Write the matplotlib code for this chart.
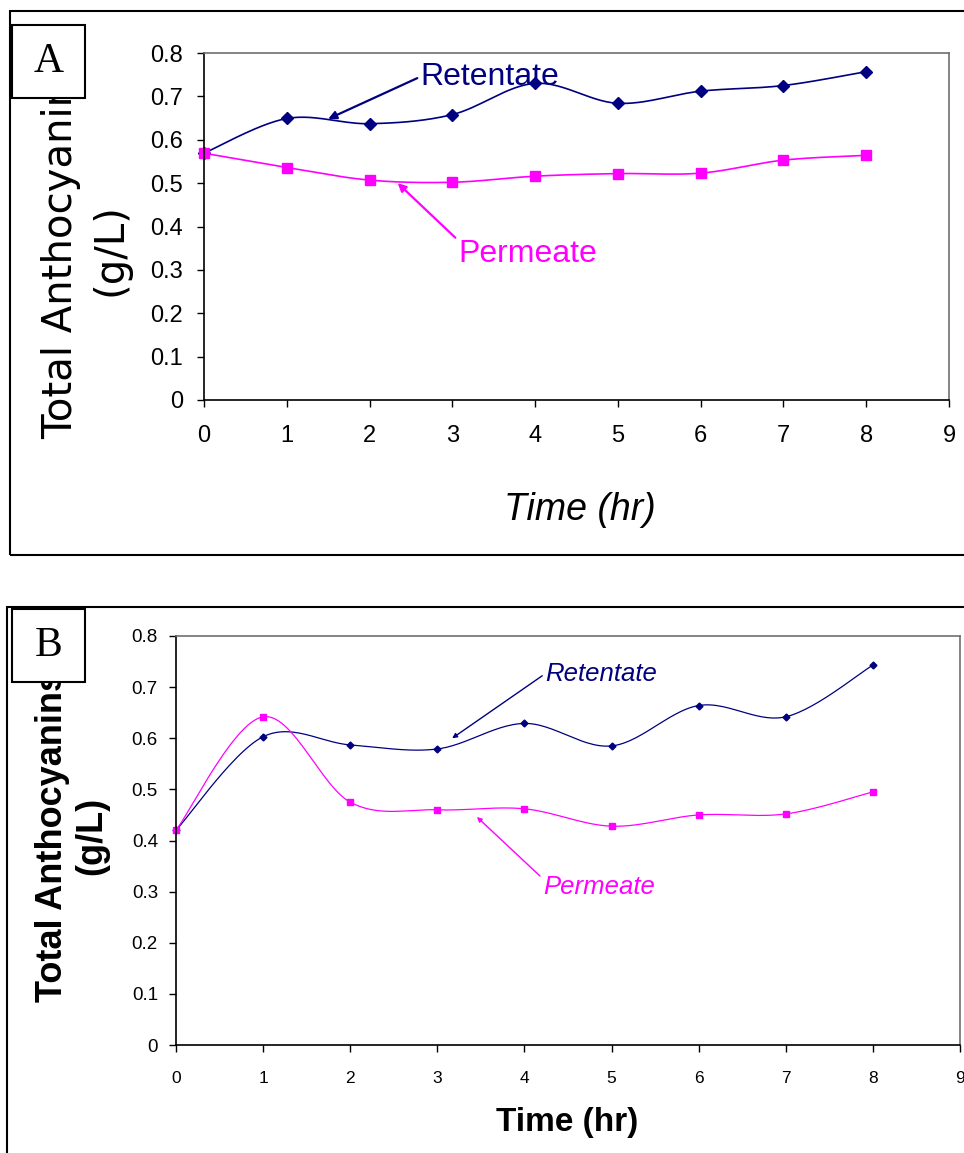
import numpy as np
import matplotlib
matplotlib.use("Agg")
import matplotlib.pyplot as plt
from matplotlib.patches import Rectangle

# =====================================================
# DATA
# =====================================================
time_hr = [0, 1, 2, 3, 4, 5, 6, 7, 8]

retentate_a = [0.569, 0.649, 0.637, 0.658, 0.730, 0.684, 0.712, 0.725, 0.757]
permeate_a = [0.569, 0.536, 0.507, 0.502, 0.516, 0.522, 0.523, 0.553, 0.564]

retentate_b = [0.420, 0.603, 0.587, 0.579, 0.629, 0.585, 0.664, 0.642, 0.743]
permeate_b = [0.420, 0.642, 0.475, 0.460, 0.462, 0.428, 0.450, 0.452, 0.495]

x_ticks = [0, 1, 2, 3, 4, 5, 6, 7, 8, 9]
y_ticks = [0, 0.1, 0.2, 0.3, 0.4, 0.5, 0.6, 0.7, 0.8]
y_tick_labels = ["0", "0.1", "0.2", "0.3", "0.4", "0.5", "0.6", "0.7", "0.8"]

NAVY = "#000080"
MAGENTA = "#FF00FF"

W, H = 964, 1153
SANS = "Liberation Sans"


def px_axes(left, top, right, bottom):
    return [left / W, 1 - bottom / H, (right - left) / W, (bottom - top) / H]


def smooth(x, y, n=30):
    # Bezier smoothing like a spreadsheet "smoothed line"
    x = np.asarray(x, float)
    y = np.asarray(y, float)
    px = np.concatenate([[x[0]], x, [x[-1]]])
    py = np.concatenate([[y[0]], y, [y[-1]]])
    t = np.linspace(0, 1, n)
    xs, ys = [], []
    for i in range(1, len(px) - 2):
        p0 = np.array([px[i], py[i]])
        p3 = np.array([px[i + 1], py[i + 1]])
        c1 = p0 + (np.array([px[i + 1], py[i + 1]]) - np.array([px[i - 1], py[i - 1]])) / 6
        c2 = p3 - (np.array([px[i + 2], py[i + 2]]) - np.array([px[i], py[i]])) / 6
        b = ((1 - t) ** 3)[:, None] * p0 + (3 * (1 - t) ** 2 * t)[:, None] * c1 \
            + (3 * (1 - t) * t ** 2)[:, None] * c2 + (t ** 3)[:, None] * p3
        xs.append(b[:, 0])
        ys.append(b[:, 1])
    return np.concatenate(xs), np.concatenate(ys)


def style_axes(ax, xsize, ysize, ypad, xpad):
    ax.set_xlim(0, 9)
    ax.set_ylim(0, 0.8)
    ax.set_xticks(x_ticks)
    ax.set_xticklabels([str(v) for v in x_ticks], family=SANS, fontsize=xsize)
    ax.set_yticks(y_ticks)
    ax.set_yticklabels(y_tick_labels, family=SANS, fontsize=ysize)
    ax.tick_params(axis="y", direction="out", length=5, width=1, pad=ypad)
    ax.tick_params(axis="x", direction="out", length=5, width=1, pad=xpad)
    for s in ["left", "bottom"]:
        ax.spines[s].set_color("black")
        ax.spines[s].set_linewidth(1.2)
    for s in ["top", "right"]:
        ax.spines[s].set_color("#707070")
        ax.spines[s].set_linewidth(1.2)


def panel_box(fig, left, top, letter):
    fig.add_artist(Rectangle((left / W, 1 - (top + 73) / H), 73 / W, 73 / H,
                             transform=fig.transFigure, facecolor="white",
                             edgecolor="black", lw=1.5, zorder=10))
    fig.text((left + 36.5) / W, 1 - (top + 37) / H, letter, ha="center", va="center",
             family="Liberation Serif", fontsize=30, zorder=11)


fig = plt.figure(figsize=(W / 100, H / 100), dpi=100)

# outer frames
fig.add_artist(Rectangle((10 / W, 1 - 555 / H), 980 / W, 544 / H, transform=fig.transFigure,
                         fill=False, edgecolor="black", lw=1.5, zorder=1))
fig.add_artist(Rectangle((7 / W, 1 - 1180 / H), 980 / W, 573 / H, transform=fig.transFigure,
                         fill=False, edgecolor="black", lw=1.5, zorder=1))

# =====================================================
# PANEL A
# =====================================================
ax_a = fig.add_axes(px_axes(204, 53, 949, 400))
style_axes(ax_a, 17, 17, 10, 13)

sx, sy = smooth(time_hr, retentate_a)
ax_a.plot(sx, sy, color=NAVY, lw=1.2, clip_on=False)
ax_a.plot(time_hr, retentate_a, ls="none", marker="D", ms=6, color=NAVY, clip_on=False)
sx, sy = smooth(time_hr, permeate_a)
ax_a.plot(sx, sy, color=MAGENTA, lw=1.2, clip_on=False)
ax_a.plot(time_hr, permeate_a, ls="none", marker="s", ms=7.5, color=MAGENTA, clip_on=False)

ax_a.annotate("Retentate", xy=(1.50, 0.648), xytext=(2.61, 0.745), color=NAVY,
              family=SANS, fontsize=23, ha="left", va="center",
              arrowprops=dict(arrowstyle="-|>", color=NAVY, lw=1.6, relpos=(0, 0.5),
                              shrinkA=0, shrinkB=0, mutation_scale=12))
ax_a.annotate("Permeate", xy=(2.34, 0.500), xytext=(3.07, 0.337), color=MAGENTA,
              family=SANS, fontsize=23, ha="left", va="center",
              arrowprops=dict(arrowstyle="-|>", color=MAGENTA, lw=1.6, relpos=(0, 0.95),
                              shrinkA=0, shrinkB=0, mutation_scale=12))

fig.text(86 / W, 1 - 250 / H, "Total Anthocyanins\n(g/L)", rotation=90, ha="center",
         va="center", multialignment="center", family="DejaVu Sans", fontsize=29,
         linespacing=1.3, zorder=5)
fig.text(580 / W, 1 - 510 / H, "Time (hr)", ha="center", va="center",
         family=SANS, style="italic", fontsize=27)
panel_box(fig, 12, 25, "A")

# =====================================================
# PANEL B
# =====================================================
ax_b = fig.add_axes(px_axes(176, 636, 960, 1045))
style_axes(ax_b, 12.5, 13.5, 8, 14)

sx, sy = smooth(time_hr, retentate_b)
ax_b.plot(sx, sy, color=NAVY, lw=0.9, clip_on=False)
ax_b.plot(time_hr, retentate_b, ls="none", marker="D", ms=3.5, color=NAVY, clip_on=False)
sx, sy = smooth(time_hr, permeate_b)
ax_b.plot(sx, sy, color=MAGENTA, lw=0.9, clip_on=False)
ax_b.plot(time_hr, permeate_b, ls="none", marker="s", ms=4.5, color=MAGENTA, clip_on=False)

ax_b.annotate("Retentate", xy=(3.17, 0.600), xytext=(4.236, 0.726), color=NAVY,
              family=SANS, style="italic", fontsize=18.5, ha="left", va="center",
              arrowprops=dict(arrowstyle="-|>", color=NAVY, lw=1.0, relpos=(0, 0.5),
                              shrinkA=0, shrinkB=0, mutation_scale=7))
ax_b.annotate("Permeate", xy=(3.455, 0.446), xytext=(4.21, 0.309), color=MAGENTA,
              family=SANS, style="italic", fontsize=18.5, ha="left", va="center",
              arrowprops=dict(arrowstyle="-|>", color=MAGENTA, lw=1.0, relpos=(0, 0.85),
                              shrinkA=0, shrinkB=0, mutation_scale=7))

fig.text(72 / W, 1 - 836 / H, "Total Anthocyanins\n(g/L)", rotation=90, ha="center",
         va="center", multialignment="center", family=SANS,
         weight="bold", fontsize=26, linespacing=1.15, zorder=5)
fig.text(567 / W, 1 - 1122 / H, "Time (hr)", ha="center", va="center",
         family=SANS, weight="bold", fontsize=24)
panel_box(fig, 12, 609, "B")

fig.savefig("out.png", dpi=100)
plt.close(fig)
